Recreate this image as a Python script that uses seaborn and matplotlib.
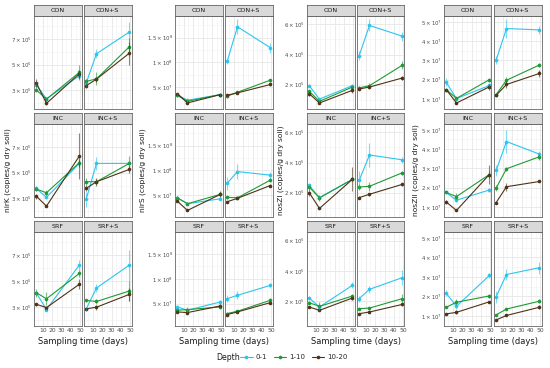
import numpy as np
import pandas as pd
import seaborn as sns
import matplotlib.pyplot as plt
from matplotlib.lines import Line2D
from matplotlib.ticker import FixedLocator, AutoMinorLocator

# sampling days and facet panels
days = [3, 14, 49]
treatments = ["CON", "CON+S", "INC", "INC+S", "SRF", "SRF+S"]
depths = ["0-1", "1-10", "10-20"]
genes = ["nirK", "nirS", "nosZI", "nosZII"]

# means, order: CON(3 days), CON+S, INC, INC+S, SRF, SRF+S  (nirK in 1e5 copies)
nirK_d01 = [3.44, 2.35, 4.14, 3.57, 5.86, 7.55, 3.78, 3.08, 5.73, 2.92, 5.73, 5.73, 4.12, 2.82, 6.25, 2.87, 4.48, 6.25]
nirK_d110 = [3.05, 2.32, 4.40, 3.70, 3.90, 6.40, 3.73, 3.44, 5.78, 4.30, 4.30, 5.73, 4.12, 3.65, 5.60, 3.52, 3.44, 4.25]
nirK_d1020 = [3.60, 1.99, 4.30, 3.36, 3.88, 5.90, 3.18, 2.40, 6.30, 3.78, 4.30, 5.26, 3.23, 2.97, 4.77, 2.87, 3.00, 3.99]
nirK_e01 = [0.2, 0.15, 0.25, 0.3, 0.35, 0.75, 0.15, 0.15, 0.3, 0.6, 0.5, 0.2, 0.15, 0.1, 0.4, 0.15, 0.3, 1.2]
nirK_e110 = [0.2, 0.15, 0.6, 0.2, 0.5, 0.7, 0.15, 0.2, 0.3, 0.3, 0.2, 0.6, 0.3, 0.5, 0.3, 0.1, 0.2, 0.8]
nirK_e1020 = [0.3, 0.1, 0.3, 0.15, 0.2, 0.9, 0.2, 0.1, 1.8, 0.2, 0.3, 0.3, 0.1, 0.1, 0.4, 0.1, 0.2, 0.5]

# nirS in 1e7 copies
nirS_d01 = [3.43, 2.28, 3.43, 10.2, 17.2, 12.96, 4.42, 3.2, 4.2, 7.35, 9.73, 9.0, 4.33, 3.67, 5.33, 6.0, 6.67, 8.67]
nirS_d110 = [3.3, 2.07, 3.43, 3.1, 3.9, 6.36, 4.42, 3.2, 5.1, 4.5, 4.4, 8.0, 3.67, 3.8, 4.33, 3.0, 3.47, 5.67]
nirS_d1020 = [3.64, 1.73, 3.43, 3.3, 3.78, 5.48, 3.74, 1.84, 5.1, 3.6, 4.3, 6.9, 3.33, 3.2, 4.53, 2.8, 3.33, 5.2]
nirS_e01 = [0.3, 0.2, 0.2, 0.5, 1.5, 1.0, 0.3, 0.3, 0.3, 1.3, 1.5, 0.7, 0.3, 0.3, 0.3, 0.7, 0.8, 0.5]
nirS_e110 = [0.3, 0.3, 0.2, 0.3, 0.3, 0.3, 0.3, 0.3, 0.4, 0.3, 0.3, 0.4, 0.3, 0.5, 0.4, 0.3, 0.3, 0.4]
nirS_e1020 = [0.2, 0.2, 0.2, 0.2, 0.3, 0.3, 0.2, 0.2, 0.6, 0.2, 0.2, 0.3, 0.2, 0.2, 0.3, 0.2, 0.2, 0.3]

# nosZI in 1e5 copies
nosZI_d01 = [1.93, 1.04, 1.93, 3.93, 5.93, 5.22, 2.48, 1.67, 2.88, 2.81, 4.5, 4.18, 2.22, 1.63, 3.05, 2.18, 2.79, 3.56]
nosZI_d110 = [1.56, 0.89, 1.84, 1.78, 1.93, 3.29, 2.37, 1.65, 2.88, 2.37, 2.42, 3.32, 1.91, 1.67, 2.35, 1.52, 1.56, 2.18]
nosZI_d1020 = [1.4, 0.78, 1.62, 1.71, 1.84, 2.44, 2.0, 0.95, 2.88, 1.67, 1.89, 2.55, 1.63, 1.41, 2.22, 1.19, 1.3, 1.8]
nosZI_e01 = [0.1, 0.1, 0.1, 0.3, 0.4, 0.3, 0.15, 0.15, 0.1, 0.6, 0.8, 0.2, 0.15, 0.1, 0.2, 0.2, 0.25, 0.5]
nosZI_e110 = [0.1, 0.1, 0.15, 0.1, 0.15, 0.25, 0.15, 0.2, 0.1, 0.2, 0.3, 0.15, 0.1, 0.3, 0.15, 0.1, 0.1, 0.3]
nosZI_e1020 = [0.15, 0.05, 0.15, 0.1, 0.15, 0.1, 0.25, 0.05, 0.8, 0.1, 0.1, 0.1, 0.05, 0.05, 0.1, 0.05, 0.05, 0.1]

# nosZII in 1e7 copies
nosZII_d01 = [1.87, 1.02, 1.7, 3.02, 4.65, 4.58, 1.75, 1.35, 1.88, 2.89, 4.39, 3.74, 2.16, 1.49, 3.07, 1.98, 3.12, 3.47]
nosZII_d110 = [1.49, 1.03, 2.0, 1.23, 1.97, 2.76, 1.75, 1.54, 2.68, 1.98, 2.98, 3.6, 1.44, 1.7, 2.02, 1.05, 1.35, 1.75]
nosZII_d1020 = [1.49, 0.79, 1.63, 1.19, 1.75, 2.32, 1.26, 0.82, 2.68, 1.23, 2.05, 2.32, 1.1, 1.18, 1.72, 0.79, 1.02, 1.44]
nosZII_e01 = [0.2, 0.05, 0.1, 0.2, 0.5, 0.2, 0.05, 0.1, 0.1, 0.3, 0.6, 0.15, 0.15, 0.15, 0.15, 0.3, 0.3, 0.3]
nosZII_e110 = [0.05, 0.08, 0.1, 0.05, 0.15, 0.1, 0.05, 0.2, 0.2, 0.15, 0.1, 0.15, 0.05, 0.15, 0.1, 0.05, 0.05, 0.1]
nosZII_e1020 = [0.05, 0.05, 0.15, 0.05, 0.2, 0.2, 0.1, 0.05, 0.5, 0.05, 0.2, 0.05, 0.05, 0.1, 0.05, 0.05, 0.05, 0.1]

# y tick values (scaled units) and their labels
nirK_ticks = [3, 5, 7]
nirK_labels = [r"$3\times10^5$", r"$5\times10^5$", r"$7\times10^5$"]
nirS_ticks = [5, 10, 15]
nirS_labels = [r"$5\times10^7$", r"$1\times10^8$", r"$1.5\times10^8$"]
nosZI_ticks = [2, 4, 6]
nosZI_labels = [r"$2\times10^5$", r"$4\times10^5$", r"$6\times10^5$"]
nosZII_ticks = [1, 2, 3, 4, 5]
nosZII_labels = [r"$1\times10^7$", r"$2\times10^7$", r"$3\times10^7$", r"$4\times10^7$", r"$5\times10^7$"]

means = {"nirK": [nirK_d01, nirK_d110, nirK_d1020], "nirS": [nirS_d01, nirS_d110, nirS_d1020],
         "nosZI": [nosZI_d01, nosZI_d110, nosZI_d1020], "nosZII": [nosZII_d01, nosZII_d110, nosZII_d1020]}
errs = {"nirK": [nirK_e01, nirK_e110, nirK_e1020], "nirS": [nirS_e01, nirS_e110, nirS_e1020],
        "nosZI": [nosZI_e01, nosZI_e110, nosZI_e1020], "nosZII": [nosZII_e01, nosZII_e110, nosZII_e1020]}
ticks = {"nirK": (nirK_ticks, nirK_labels), "nirS": (nirS_ticks, nirS_labels),
         "nosZI": (nosZI_ticks, nosZI_labels), "nosZII": (nosZII_ticks, nosZII_labels)}
ylims = {"nirK": (1.55, 8.8), "nirS": (0.5, 19.4), "nosZI": (0.38, 6.56), "nosZII": (0.48, 5.3)}

rows = []
for g in genes:
    for di, d in enumerate(depths):
        for ti, t in enumerate(treatments):
            for k, day in enumerate(days):
                rows.append({"gene": g, "Depth": d, "trt": t, "day": day,
                             "value": means[g][di][ti * 3 + k], "err": errs[g][di][ti * 3 + k]})
df = pd.DataFrame(rows)

palette = {"0-1": "#2CC5EE", "1-10": "#1F9A35", "10-20": "#4E3217"}

sns.set_theme(style="white")
plt.rcParams["font.family"] = ["DejaVu Sans"]

W, H = 550, 368
fig = plt.figure(figsize=(5.5, 3.68), dpi=100)


def box(x0, y0, x1, y1):
    return [x0 / W, 1 - y1 / H, (x1 - x0) / W, (y1 - y0) / H]


group_left = [34, 175, 307, 444]
ylab_x = [8, 143, 281, 416]
facet_w, gap = 47.5, 2.5
strip_y = [(5, 16), (113, 124), (221, 232)]
panel_y = [(16, 109), (124, 217), (232, 326)]
border = "#666666"

for gi, g in enumerate(genes):
    tv, tl = ticks[g]
    for r in range(3):
        for c in range(2):
            t = treatments[r * 2 + c]
            x0 = group_left[gi] + c * (facet_w + gap)
            x1 = x0 + facet_w
            ax = fig.add_axes(box(x0, panel_y[r][0], x1, panel_y[r][1]))
            sub = df[(df.gene == g) & (df.trt == t)]
            sns.lineplot(data=sub, x="day", y="value", hue="Depth", palette=palette,
                         hue_order=depths, marker="o", markersize=2.6, markeredgewidth=0,
                         linewidth=0.8, errorbar=None, legend=False, ax=ax)
            for d in depths:
                s = sub[sub.Depth == d]
                ax.errorbar(s.day, s.value, yerr=s.err, fmt="none", ecolor=palette[d],
                            elinewidth=0.8, alpha=0.6, capsize=0)
            ax.set_xlim(0.7, 51.3)
            ax.set_ylim(*ylims[g])
            ax.set_xticks([10, 20, 30, 40, 50])
            ax.yaxis.set_major_locator(FixedLocator(tv))
            ax.xaxis.set_minor_locator(AutoMinorLocator(2))
            ax.yaxis.set_minor_locator(AutoMinorLocator(2))
            ax.grid(True, which="major", color="#E6E6E6", linewidth=0.6)
            ax.grid(True, which="minor", color="#F2F2F2", linewidth=0.4)
            ax.set_axisbelow(True)
            ax.set_xlabel("")
            ax.set_ylabel("")
            ax.tick_params(axis="both", which="both", length=0, pad=1.2,
                           labelsize=4.3, labelcolor="#4D4D4D")
            if c == 0:
                ax.set_yticklabels(tl, fontsize=3.9)
            else:
                ax.set_yticklabels([])
            if r < 2:
                ax.set_xticklabels([])
            for sp in ax.spines.values():
                sp.set_color(border)
                sp.set_linewidth(0.6)
            # facet strip
            st = fig.add_axes(box(x0, strip_y[r][0], x1, strip_y[r][1]))
            st.set_facecolor("#D9D9D9")
            st.set_xticks([])
            st.set_yticks([])
            for sp in st.spines.values():
                sp.set_color(border)
                sp.set_linewidth(0.6)
            st.text(0.5, 0.5, t, ha="center", va="center", fontsize=4.6, color="#1A1A1A",
                    transform=st.transAxes)
    # axis titles
    cx = group_left[gi] + facet_w + gap / 2
    fig.text(cx / W, 1 - 341 / H, "Sampling time (days)", ha="center", va="center",
             fontsize=6, color="#1A1A1A")
    fig.text(ylab_x[gi] / W, 1 - 170 / H, g + " (copies/g dry soil)",
             rotation=90, ha="center", va="center", fontsize=5.4, color="#1A1A1A")

# legend
fig.text(216 / W, 1 - 357 / H, "Depth", ha="left", va="center", fontsize=5.6, color="#1A1A1A")
handles = [Line2D([0], [0], color=palette[d], marker="o", markersize=2.6, markeredgewidth=0,
                  linewidth=0.8) for d in depths]
fig.legend(handles, depths, loc="center left", bbox_to_anchor=(240 / W, 1 - 357 / H), ncol=3,
           frameon=False, fontsize=5.0, handlelength=1.8, handletextpad=0.4, columnspacing=1.0,
           borderpad=0, borderaxespad=0)

fig.savefig("out.png", dpi=100, facecolor="white")
